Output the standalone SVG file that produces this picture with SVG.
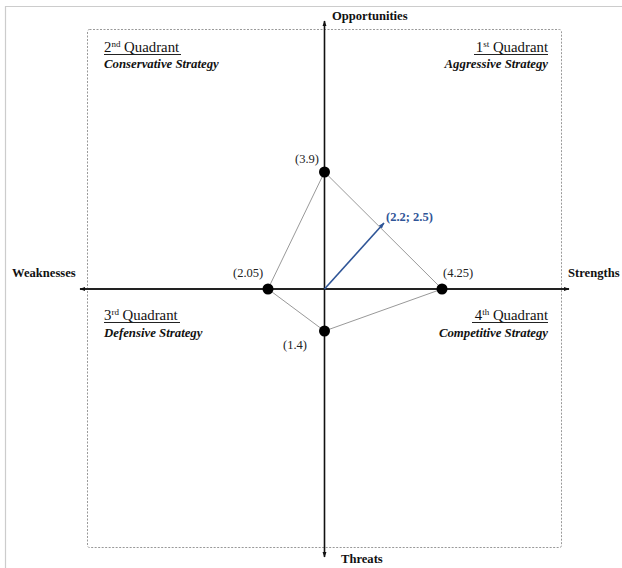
<svg xmlns="http://www.w3.org/2000/svg" width="622" height="568" viewBox="0 0 622 568">
<style>
text{font-family:"Liberation Serif","Times New Roman",serif;fill:#111}
.ax{font-weight:bold;font-size:12.6px}
.q{font-size:14.8px}
.s{font-size:12.8px;font-weight:bold;font-style:italic}
.v{font-size:12.5px;fill:#222}
.ul{stroke:#222;stroke-width:1}
.tri{stroke:#999;stroke-width:1;fill:none}
</style>
<defs>
<marker id="ah" viewBox="0 0 10 10" refX="9" refY="5" markerUnits="userSpaceOnUse" markerWidth="6" markerHeight="6" orient="auto"><path d="M0,1.5 L10,5 L0,8.5 z" fill="#111"/></marker>
<marker id="bh" viewBox="0 0 10 10" refX="9" refY="5" markerUnits="userSpaceOnUse" markerWidth="6" markerHeight="6" orient="auto"><path d="M0,1.5 L10,5 L0,8.5 z" fill="#2f5597"/></marker>
</defs>
<rect width="622" height="568" fill="#fff"/>
<path d="M5.5,568 V6.5 H622" stroke="#ccc" stroke-width="1.2" fill="none"/>
<rect id="frame" x="87.5" y="29.5" width="474" height="518" rx="2" fill="none" stroke="#999" stroke-width="1" stroke-dasharray="2,1.5"/>
<g id="connectors">
<line x1="324.5" y1="289" x2="324.5" y2="21" stroke="#111" stroke-width="1.6" marker-end="url(#ah)"/>
<line x1="324.5" y1="289" x2="324.5" y2="557" stroke="#111" stroke-width="1.6" marker-end="url(#ah)"/>
<line x1="324.5" y1="289" x2="80" y2="289" stroke="#222" stroke-width="2" marker-end="url(#ah)"/>
<line x1="324.5" y1="289" x2="569" y2="289" stroke="#222" stroke-width="2" marker-end="url(#ah)"/>
<polygon class="tri" points="324.5,172 268,289 324.5,331 442,289"/>
<line x1="324.5" y1="289" x2="384" y2="223" stroke="#2f5597" stroke-width="1.6" marker-end="url(#bh)"/>
</g>
<g id="axis-labels">
<text class="ax" x="332" y="20">Opportunities</text>
<text class="ax" x="341" y="563">Threats</text>
<text class="ax" x="12" y="277">Weaknesses</text>
<text class="ax" x="568" y="277">Strengths</text>
</g>
<g id="q2"><text class="q" x="104" y="52">2<tspan font-size="9" dy="-5">nd</tspan><tspan dy="5"> Quadrant</tspan></text><line class="ul" x1="104" y1="54.5" x2="181" y2="54.5"/><text class="s" x="104" y="68">Conservative Strategy</text></g>
<g id="q1"><text class="q" x="548" y="52" text-anchor="end">1<tspan font-size="9" dy="-5">st</tspan><tspan dy="5"> Quadrant</tspan></text><line class="ul" x1="474" y1="54.5" x2="548" y2="54.5"/><text class="s" x="548" y="68" text-anchor="end">Aggressive Strategy</text></g>
<g id="q3"><text class="q" x="104" y="320">3<tspan font-size="9" dy="-5">rd</tspan><tspan dy="5"> Quadrant</tspan></text><line class="ul" x1="104" y1="322.5" x2="180" y2="322.5"/><text class="s" x="104" y="337">Defensive Strategy</text></g>
<g id="q4"><text class="q" x="548" y="320" text-anchor="end">4<tspan font-size="9" dy="-5">th</tspan><tspan dy="5"> Quadrant</tspan></text><line class="ul" x1="472" y1="322.5" x2="548" y2="322.5"/><text class="s" x="548" y="337" text-anchor="end">Competitive Strategy</text></g>
<g id="p-o"><circle cx="324.5" cy="172" r="5.5" fill="#000"/><text class="v" x="295" y="163">(3.9)</text></g>
<g id="p-w"><circle cx="268" cy="289" r="5.5" fill="#000"/><text class="v" x="233" y="277">(2.05)</text></g>
<g id="p-s"><circle cx="442" cy="289" r="5.5" fill="#000"/><text class="v" x="443" y="277">(4.25)</text></g>
<g id="p-t"><circle cx="324.5" cy="331" r="5.5" fill="#000"/><text class="v" x="283" y="349">(1.4)</text></g>
<g id="result"><text x="386" y="221" font-size="12.5" font-weight="bold" style="fill:#2f5597">(2.2; 2.5)</text></g>
</svg>
